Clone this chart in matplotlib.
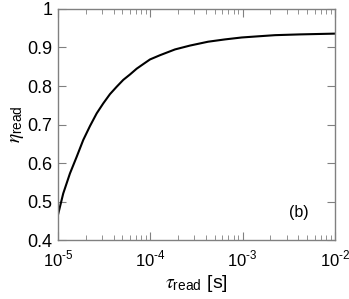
import numpy as np
import matplotlib
matplotlib.use('Agg')
from matplotlib import pyplot as plt

plt.rcParams['font.family'] = ['Liberation Sans', 'DejaVu Sans']
plt.rcParams['mathtext.fontset'] = 'custom'
plt.rcParams['mathtext.rm'] = 'Liberation Sans'
plt.rcParams['mathtext.it'] = 'STIXGeneral:italic'

# data
tau_read = [1.0e-5, 1.141e-5, 1.349e-5, 1.594e-5, 1.88e-5, 2.222e-5, 2.627e-5,
            3.097e-5, 3.66e-5, 4.32e-5, 5.10e-5, 6.03e-5, 7.12e-5, 8.40e-5,
            9.93e-5, 1.274e-4, 1.852e-4, 2.69e-4, 4.22e-4, 6.44e-4, 9.77e-4,
            1.47e-3, 2.24e-3, 4.19e-3, 1.0e-2]
eta_read = [0.465, 0.521, 0.573, 0.616, 0.660, 0.696, 0.729,
            0.755, 0.779, 0.798, 0.816, 0.830, 0.845, 0.857,
            0.869, 0.880, 0.895, 0.905, 0.915, 0.921, 0.926,
            0.929, 0.932, 0.934, 0.936]
x_ticks = [1e-5, 1e-4, 1e-3, 1e-2]
x_labels = ['$10^{\u20105}$', '$10^{\u20104}$', '$10^{\u20103}$', '$10^{\u20102}$']
y_ticks = [0.4, 0.5, 0.6, 0.7, 0.8, 0.9, 1.0]
y_labels = ['0.4', '0.5', '0.6', '0.7', '0.8', '0.9', '1']

fig = plt.figure(figsize=(3.49, 2.99), dpi=100)
ax = fig.add_axes([0.166, 0.197, 0.794, 0.773])
ax.plot(tau_read, eta_read, color='black', lw=1.5)
ax.set_xscale('log')
ax.set_xlim(1e-5, 1e-2)
ax.set_ylim(0.4, 1.0)
ax.set_xticks(x_ticks)
ax.set_xticklabels(x_labels)
ax.set_yticks(y_ticks)
ax.set_yticklabels(y_labels)

for s in ax.spines.values():
    s.set_color('#808080')
    s.set_linewidth(1.0)
ax.tick_params(which='both', direction='in', top=True, right=True,
               color='#808080')
ax.tick_params(which='major', length=6)
ax.tick_params(which='minor', length=3.5)
ax.tick_params(axis='y', labelsize=13, pad=4)
ax.tick_params(axis='x', labelsize=12, pad=7)

ax.set_xlabel(r'$\tau_{\mathrm{read}}$ [s]', fontsize=14, labelpad=2)
ax.set_ylabel(r'$\eta_{\mathrm{read}}$', fontsize=14, labelpad=1)
ax.text(0.87, 0.12, '(b)', transform=ax.transAxes, fontsize=11.5,
        ha='center', va='center')

fig.savefig('out.png', dpi=100)
